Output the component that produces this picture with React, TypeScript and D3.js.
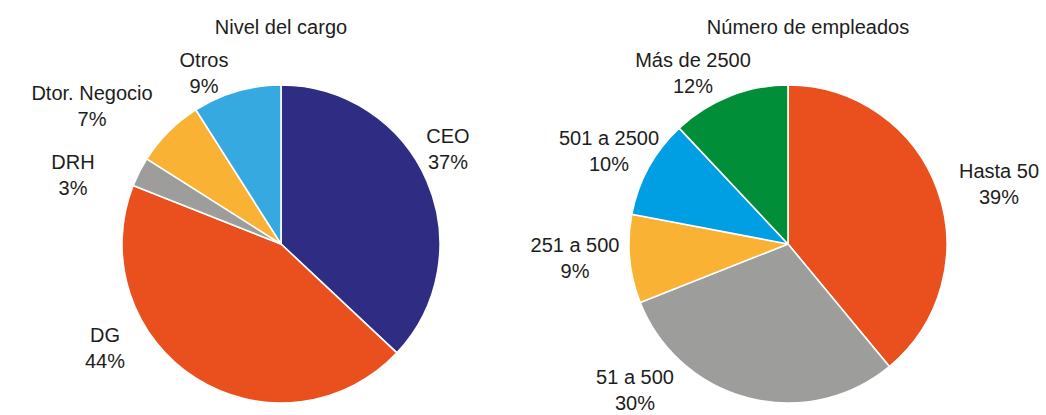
import React from 'react'
import * as d3 from 'd3'

// --- data ---
const cargoLabels = ['CEO', 'DG', 'DRH', 'Dtor. Negocio', 'Otros']
const cargoValues = [37, 44, 3, 7, 9]
const cargoColors = ['#2e2d83', '#e9501d', '#9d9d9c', '#f9b233', '#36a9e1']

const empleadosLabels = ['Hasta 50', '51 a 500', '251 a 500', '501 a 2500', 'Más de 2500']
const empleadosValues = [39, 30, 9, 10, 12]
const empleadosColors = ['#e9501d', '#9d9d9c', '#f9b233', '#009fe3', '#008e39']

const W = 1046
const H = 415
const R = 159
const font = '"Liberation Sans", Arial, sans-serif'

// label anchors (relative to pie centre), first-line baseline
const cargoLabelPos = [[167, -101], [-176, 98], [-208, -75], [-189, -144], [-77, -177]]
const empleadosLabelPos = [[211, -66], [-153, 140], [-213, 8], [-179, -99], [-95, -177]]

function Pie({cx, cy, title, titleX, labels, values, colors, labelPos}) {
    const pie = d3.pie().sort(null).value(d => d)
    const arc = d3.arc().innerRadius(0).outerRadius(R)
    const arcs = pie(values)
    return (
        <g>
            <text x={titleX} y={34} textAnchor="middle" fontSize={20} fill="#1d1d1b" fontFamily={font}>{title}</text>
            <g transform={`translate(${cx},${cy})`}>
                {arcs.map((a, i) => (
                    <path key={i} d={arc(a)} fill={colors[i]} stroke="#fff" strokeWidth={1.6} strokeLinejoin="round" />
                ))}
                {arcs.map((a, i) => (
                    <text key={'t' + i} x={labelPos[i][0]} y={labelPos[i][1]} textAnchor="middle"
                          fontSize={20} fill="#1d1d1b" fontFamily={font}>
                        <tspan x={labelPos[i][0]}>{labels[i]}</tspan>
                        <tspan x={labelPos[i][0]} dy={25.5}>{d3.format('d')(values[i])}%</tspan>
                    </text>
                ))}
            </g>
        </g>
    )
}

export default function App() {
    return (
        <svg width={W} height={H} style={{position: 'absolute', left: 0, top: 0, background: '#fff'}}>
            <Pie cx={281} cy={244} title="Nivel del cargo" titleX={281}
                 labels={cargoLabels} values={cargoValues} colors={cargoColors} labelPos={cargoLabelPos} />
            <Pie cx={788} cy={244} title="Número de empleados" titleX={808}
                 labels={empleadosLabels} values={empleadosValues} colors={empleadosColors} labelPos={empleadosLabelPos} />
        </svg>
    )
}
